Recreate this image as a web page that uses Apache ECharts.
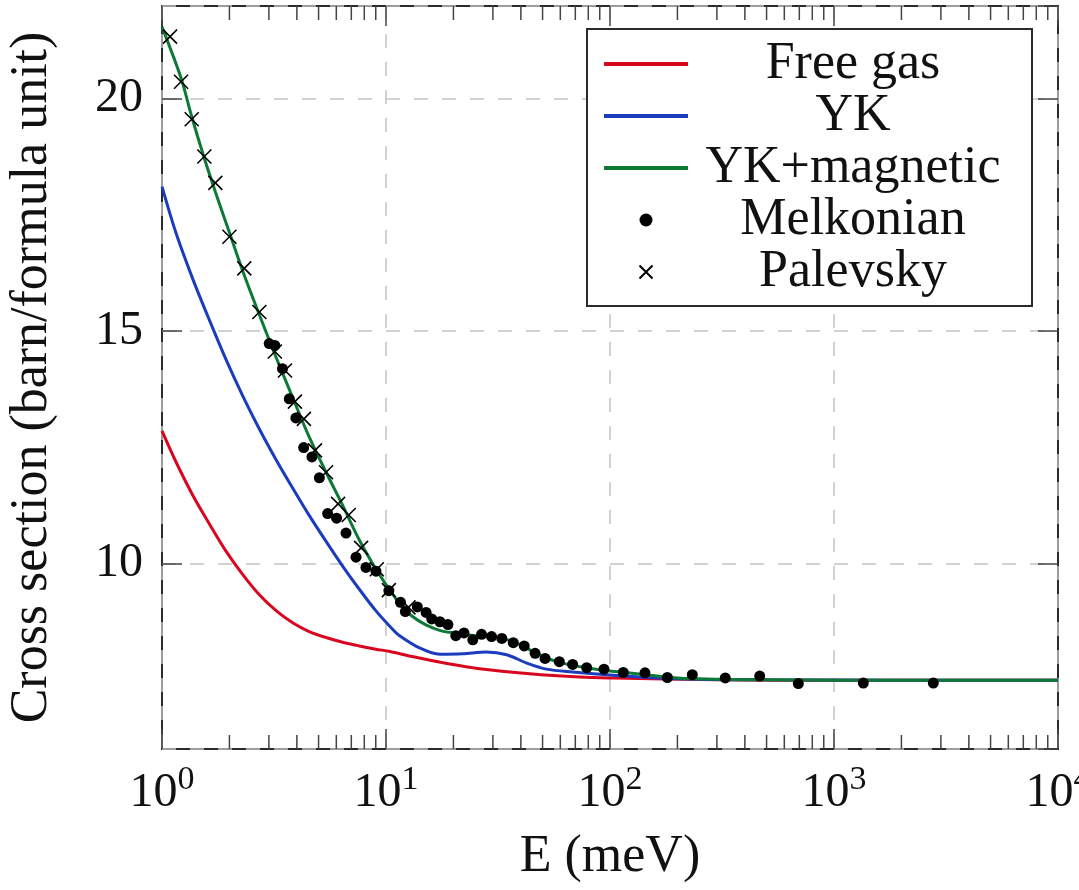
<!DOCTYPE html>
<html>
<head>
<meta charset="utf-8">
<script src="https://cdn.jsdelivr.net/npm/echarts@6/dist/echarts.min.js"></script>
<style>
  html, body { margin: 0; padding: 0; background: #fff; }
  #chart { width: 1079px; height: 890px; }
</style>
</head>
<body>
<div id="chart"></div>
<script>
// ---------- data ----------
const seriesNames = ['Free gas', 'YK', 'YK+magnetic', 'Melkonian', 'Palevsky'];

const freeGasE = [1, 1.155, 1.37, 1.63, 1.93, 2.29, 2.72, 3.23, 3.83, 4.54, 5.4, 6.4, 7.6, 9.0, 10.4, 13.1, 18.7, 26.2, 43.8, 73.3, 103, 300, 1000, 10000];
const freeGasV = [12.85, 12.18, 11.47, 10.84, 10.26, 9.76, 9.32, 8.98, 8.72, 8.53, 8.40, 8.30, 8.22, 8.15, 8.10, 7.99, 7.84, 7.73, 7.62, 7.55, 7.53, 7.49, 7.48, 7.48];

const ykE = [1, 1.155, 1.37, 1.63, 1.93, 2.29, 2.72, 3.23, 3.83, 4.54, 5.4, 6.4, 7.6, 9.0, 10.7, 11.5, 14.2, 17.4, 22, 28, 34.6, 42.5, 52, 68, 103, 180, 500, 10000];
const ykV = [18.11, 17.11, 16.13, 15.23, 14.39, 13.61, 12.89, 12.23, 11.62, 11.03, 10.47, 9.94, 9.44, 8.98, 8.58, 8.44, 8.17, 8.04, 8.05, 8.09, 8.03, 7.85, 7.72, 7.66, 7.59, 7.52, 7.49, 7.48];

const ykMagE = [1, 1.216, 1.357, 1.545, 1.73, 2.0, 2.33, 2.72, 3.19, 3.83, 4.54, 5.4, 6.4, 7.6, 9.0, 10.4, 11.5, 13, 15, 17.5, 20, 25, 30, 35, 40, 46, 52, 60, 70, 80, 100, 120, 150, 200, 300, 500, 1000, 10000];
const ykMagV = [21.55, 20.45, 19.62, 18.72, 18.0, 17.12, 16.2, 15.35, 14.5, 13.57, 12.72, 11.96, 11.25, 10.5, 9.88, 9.42, 9.13, 8.87, 8.68, 8.55, 8.50, 8.44, 8.41, 8.35, 8.24, 8.08, 7.96, 7.86, 7.79, 7.74, 7.68, 7.64, 7.59, 7.53, 7.50, 7.49, 7.48, 7.48];

const melkonianE = [3.01, 3.19, 3.45, 3.70, 3.96, 4.29, 4.67, 5.04, 5.49, 6.02, 6.63, 7.35, 8.14, 9.02, 10.3, 11.6, 12.2, 13.8, 15.1, 16.0, 17.4, 18.9, 20.5, 22.3, 24.4, 26.7, 29.6, 32.9, 37.0, 41.4, 46.3, 51.3, 59.4, 68.1, 78.7, 94.0, 114.6, 143.3, 180.3, 233, 327, 466, 693, 1352, 2776];
const melkonianV = [14.73, 14.69, 14.19, 13.54, 13.13, 12.49, 12.29, 11.84, 11.07, 10.97, 10.65, 10.13, 9.91, 9.83, 9.41, 9.16, 8.96, 9.06, 8.94, 8.80, 8.74, 8.68, 8.44, 8.50, 8.35, 8.47, 8.42, 8.38, 8.29, 8.22, 8.06, 7.95, 7.88, 7.82, 7.75, 7.72, 7.65, 7.64, 7.54, 7.60, 7.53, 7.57, 7.41, 7.42, 7.42];

const palevskyE = [1.086, 1.216, 1.357, 1.545, 1.73, 2.0, 2.33, 2.72, 3.19, 3.54, 3.92, 4.30, 4.82, 5.40, 6.11, 6.82, 7.74, 9.1, 10.3, 12.6];
const palevskyV = [21.34, 20.37, 19.56, 18.76, 18.19, 17.03, 16.35, 15.41, 14.56, 14.15, 13.48, 13.11, 12.43, 11.96, 11.28, 11.04, 10.33, 9.87, 9.42, 9.05];

const xMin = 1, xMax = 10000;
const yMin = 6, yMax = 22;
const minorTickValues = [2,3,4,5,6,7,8,9, 20,30,40,50,60,70,80,90, 200,300,400,500,600,700,800,900, 2000,3000,4000,5000,6000,7000,8000,9000];

// ---------- chart ----------
const FONT = '"Liberation Serif", "DejaVu Serif", serif';
const zip = (a, b) => a.map((v, i) => [v, b[i]]);
const chart = echarts.init(document.getElementById('chart'), null, { renderer: 'canvas' });

const lineCommon = {
  type: 'line', symbol: 'none', showSymbol: false, smooth: 0.3, clip: true,
  xAxisIndex: 0, yAxisIndex: 0
};
const LINE_ICON = 'path://M0,0L84,0L84,4L0,4Z';

const option = {
  backgroundColor: '#ffffff',
  animation: false,
  grid: { left: 162, right: 21, top: 6, bottom: 141, show: true, borderColor: '#2a2a2a', borderWidth: 2, backgroundColor: 'transparent', outerBoundsMode: 'none', containLabel: false },
  xAxis: [{
    type: 'log', logBase: 10, min: xMin, max: xMax, position: 'bottom',
    name: 'E (meV)', nameLocation: 'middle', nameGap: 82,
    nameTextStyle: { fontFamily: FONT, fontSize: 52, color: '#111' },
    axisLine: { show: false },
    axisTick: { show: true, inside: true, length: 20, lineStyle: { color: '#444', width: 1.5 } },
    splitLine: { show: true, lineStyle: { color: '#c4c4c4', width: 1.5, type: [14, 14] } },
    axisLabel: {
      margin: 14, hideOverlap: false,
      formatter: v => '{b|10}{s|' + Math.round(Math.log10(v)) + '}',
      rich: {
        b: { fontFamily: FONT, fontSize: 48, color: '#111', padding: [6, 0, 0, 0] },
        s: { fontFamily: FONT, fontSize: 34, color: '#111', verticalAlign: 'top' }
      }
    }
  }, {
    type: 'log', logBase: 10, min: xMin, max: xMax, position: 'top',
    axisLine: { show: false }, axisLabel: { show: false }, splitLine: { show: false },
    axisTick: { show: true, inside: true, length: 20, lineStyle: { color: '#444', width: 1.5 } }
  }],
  yAxis: [{
    type: 'value', min: yMin, max: yMax, splitNumber: 3, position: 'left',
    name: 'Cross section (barn/formula unit)', nameLocation: 'middle', nameGap: 104, nameRotate: 90,
    nameTextStyle: { fontFamily: FONT, fontSize: 52, color: '#111' },
    axisLine: { show: false },
    axisTick: { show: true, inside: true, length: 20, lineStyle: { color: '#444', width: 1.5 } },
    splitLine: { show: true, lineStyle: { color: '#c4c4c4', width: 1.5, type: [14, 14] } },
    axisLabel: { margin: 19, showMinLabel: false, showMaxLabel: false, fontFamily: FONT, fontSize: 48, color: '#111' }
  }, {
    type: 'value', min: yMin, max: yMax, splitNumber: 3, position: 'right',
    axisLine: { show: false }, axisLabel: { show: false }, splitLine: { show: false },
    axisTick: { show: true, inside: true, length: 20, lineStyle: { color: '#444', width: 1.5 } }
  }],
  legend: {
    orient: 'vertical', left: 587, top: 29,
    padding: [9, 19, 8, 17], itemGap: 0, itemWidth: 84, itemHeight: 13,
    borderColor: '#2a2a2a', borderWidth: 2, backgroundColor: '#ffffff',
    formatter: name => '{c|' + name + '}',
    textStyle: { rich: { c: { width: 320, align: 'center', fontFamily: FONT, fontSize: 52, lineHeight: 61, color: '#111' } } },
    data: [
      { name: seriesNames[0], icon: LINE_ICON },
      { name: seriesNames[1], icon: LINE_ICON },
      { name: seriesNames[2], icon: LINE_ICON },
      { name: seriesNames[3] },
      { name: seriesNames[4] }
    ]
  },
  series: [
    Object.assign({}, lineCommon, { name: seriesNames[0], data: zip(freeGasE, freeGasV), lineStyle: { color: '#d9061f', width: 3 }, itemStyle: { color: '#d9061f' }, z: 3 }),
    Object.assign({}, lineCommon, { name: seriesNames[1], data: zip(ykE, ykV), lineStyle: { color: '#1c3cbe', width: 3 }, itemStyle: { color: '#1c3cbe' }, z: 3 }),
    Object.assign({}, lineCommon, { name: seriesNames[2], data: zip(ykMagE, ykMagV), lineStyle: { color: '#0c7a36', width: 3 }, itemStyle: { color: '#0c7a36' }, z: 3 }),
    {
      name: seriesNames[3], type: 'scatter', symbol: 'circle', symbolSize: 11,
      data: zip(melkonianE, melkonianV), itemStyle: { color: '#000', opacity: 1 }, z: 4
    },
    {
      name: seriesNames[4], type: 'scatter', symbol: 'path://M0,0L10,10M10,0L0,10', symbolSize: 14,
      data: zip(palevskyE, palevskyV),
      itemStyle: { color: 'rgba(0,0,0,0)', borderColor: '#000', borderWidth: 1.6, opacity: 1 }, z: 5
    },
    {
      name: '_minorTicks', type: 'custom', silent: true, clip: false, z: 6,
      xAxisIndex: 0, yAxisIndex: 0,
      data: minorTickValues.map(v => [v, yMin]),
      encode: { x: 0, y: 1 },
      renderItem: (params, api) => {
        const x = api.value(0);
        const pb = api.coord([x, yMin]);
        const pt = api.coord([x, yMax]);
        const st = { stroke: '#444', lineWidth: 1.5 };
        return { type: 'group', children: [
          { type: 'line', shape: { x1: pb[0], y1: pb[1], x2: pb[0], y2: pb[1] - 14 }, style: st },
          { type: 'line', shape: { x1: pt[0], y1: pt[1], x2: pt[0], y2: pt[1] + 14 }, style: st }
        ] };
      }
    }
  ]
};
chart.setOption(option);
</script>
</body>
</html>
